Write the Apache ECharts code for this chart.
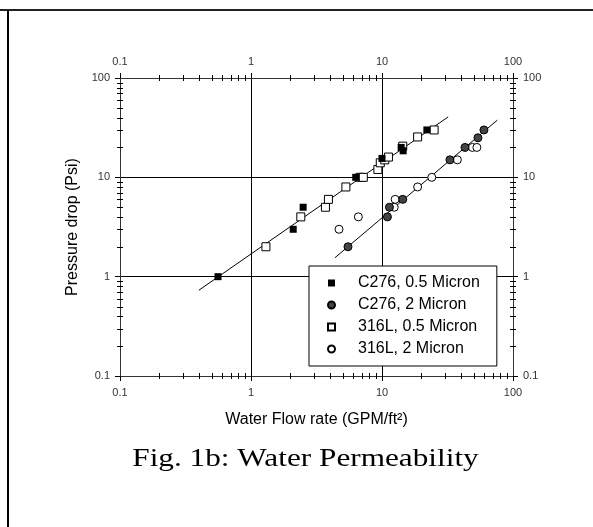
<!DOCTYPE html>
<html>
<head>
<meta charset="utf-8">
<script src="https://cdn.jsdelivr.net/npm/echarts@6/dist/echarts.min.js"></script>
<style>
html,body{margin:0;padding:0;background:#fff;}
#chart{width:593px;height:527px;}
</style>
</head>
<body>
<div id="chart"></div>
<script>
// ---- data ----
const seriesNames = ['C276, 0.5 Micron', 'C276, 2 Micron', '316L, 0.5 Micron', '316L, 2 Micron'];

const c276_05_x = [0.56, 2.1, 2.5, 6.3, 10, 14, 14.5, 22];
const c276_05_y = [1, 3, 5, 10, 15.5, 20, 18.5, 30];

const c276_2_x = [5.5, 11, 11.4, 14.4, 33, 43, 54, 60];
const c276_2_y = [2, 4, 5, 6, 15, 20, 25, 30];

const s316_05_x = [1.3, 2.4, 3.7, 3.9, 5.3, 6.8, 7.2, 9.3, 9.7, 10.5, 11.2, 14.4, 18.7, 25];
const s316_05_y = [2, 4, 5, 6, 8, 10, 10, 12, 14, 15, 16, 20.6, 25.5, 30];

const s316_2_x = [4.7, 6.6, 12.4, 12.6, 18.7, 24, 37.6, 49, 53];
const s316_2_y = [3, 4, 5, 6, 8, 10, 15, 20, 20];

const fit1_x = [0.4, 32];
const fit1_y = [0.73, 40.6];
const fit2_x = [4.37, 76];
const fit2_y = [1.55, 37.7];

const minorTicks = [0.2,0.3,0.4,0.5,0.6,0.7,0.8,0.9, 2,3,4,5,6,7,8,9, 20,30,40,50,60,70,80,90];

const xName = 'Water Flow rate (GPM/ft\u00B2)';
const yName = 'Pressure drop (Psi)';
const caption = 'Fig. 1b: Water Permeability';

// ---- helpers ----
function zip(xs, ys){ return xs.map((x,i)=>[x, ys[i]]); }

const chart = echarts.init(document.getElementById('chart'), null, {renderer:'canvas'});
const font = 'Liberation Sans, Arial, sans-serif';
const axisCol = '#333';

function logAxis(pos, isX, primary){
  return {
    type:'log', logBase:10, min:0.1, max:100, position:pos,
    axisLine:{show:true, onZero:false, lineStyle:{color:axisCol, width:1}},
    axisTick:{show:true, length:5, inside:false, lineStyle:{color:'#000', width:1}},
    axisLabel:{show:true, fontFamily:font, fontSize:11, color:'#333', margin: isX ? 11 : 10},
    splitLine:{show:primary, lineStyle:{color:'#000', width:1}},
    minorTick:{show:false},
    name: primary ? (isX ? xName : yName) : '',
    nameLocation:'middle',
    nameGap: isX ? 36 : 37,
    nameTextStyle:{fontFamily:font, fontSize:16, color:'#000'}
  };
}

function tickRender(isX){
  return function(params, api){
    const v = api.value(0);
    const a = isX ? api.coord([v, 0.1]) : api.coord([0.1, v]);
    const b = isX ? api.coord([v, 100]) : api.coord([100, v]);
    const st = {stroke:'#000', lineWidth:1};
    if(isX){
      return {type:'group', children:[
        {type:'line', shape:{x1:Math.round(a[0])+0.5, y1:a[1]-3, x2:Math.round(a[0])+0.5, y2:a[1]+3}, style:st},
        {type:'line', shape:{x1:Math.round(b[0])+0.5, y1:b[1]-3, x2:Math.round(b[0])+0.5, y2:b[1]+3}, style:st}
      ]};
    } else {
      return {type:'group', children:[
        {type:'line', shape:{x1:a[0]-3, y1:Math.round(a[1])+0.5, x2:a[0]+3, y2:Math.round(a[1])+0.5}, style:st},
        {type:'line', shape:{x1:b[0]-3, y1:Math.round(b[1])+0.5, x2:b[0]+3, y2:Math.round(b[1])+0.5}, style:st}
      ]};
    }
  };
}

const option = {
  backgroundColor:'#fff',
  animation:false,
  grid:{left:120, right:80, top:78, bottom:151, containLabel:false},
  xAxis:[logAxis('bottom', true, true), logAxis('top', true, false)],
  yAxis:[logAxis('left', false, true), logAxis('right', false, false)],
  legend:{
    data:seriesNames,
    orient:'vertical',
    left:309, top:266,
    padding:[9,17,9,18],
    itemWidth:7, itemHeight:7, itemGap:6,
    backgroundColor:'#fff',
    borderColor:'#000', borderWidth:1, borderRadius:0,
    textStyle:{fontFamily:font, fontSize:16, color:'#000', lineHeight:16, padding:[0,0,0,18]},
    selectedMode:false
  },
  graphic:[
    {type:'line', shape:{x1:0, y1:10, x2:593, y2:10}, style:{stroke:'#222', lineWidth:2}},
    {type:'line', shape:{x1:8, y1:10, x2:8, y2:527}, style:{stroke:'#000', lineWidth:2}},
    {type:'text', x:305.5, y:459, scaleX:1.25, scaleY:1,
      style:{text:caption, x:0, y:0, textAlign:'center', textVerticalAlign:'middle',
        font:'25px "Liberation Serif", "Times New Roman", serif', fill:'#000'}}
  ],
  series:[
    {type:'line', name:'fit1', data:zip(fit1_x, fit1_y), showSymbol:false, symbol:'none',
      lineStyle:{color:'#000', width:1}, z:1, silent:true},
    {type:'line', name:'fit2', data:zip(fit2_x, fit2_y), showSymbol:false, symbol:'none',
      lineStyle:{color:'#000', width:1}, z:1, silent:true},
    {type:'custom', name:'xminor', data:minorTicks.map(v=>[v]), renderItem:tickRender(true), clip:false, silent:true, z:3},
    {type:'custom', name:'yminor', data:minorTicks.map(v=>[v]), renderItem:tickRender(false), clip:false, silent:true, z:3},
    {type:'scatter', name:seriesNames[2], data:zip(s316_05_x, s316_05_y), symbol:'rect', symbolSize:8,
      itemStyle:{color:'#fff', borderColor:'#000', borderWidth:1, opacity:1}, z:5},
    {type:'scatter', name:seriesNames[3], data:zip(s316_2_x, s316_2_y), symbol:'circle', symbolSize:8,
      itemStyle:{color:'#fff', borderColor:'#000', borderWidth:1, opacity:1}, z:5},
    {type:'scatter', name:seriesNames[0], data:zip(c276_05_x, c276_05_y), symbol:'rect', symbolSize:7,
      itemStyle:{color:'#000', borderColor:'#000', borderWidth:0, opacity:1}, z:6},
    {type:'scatter', name:seriesNames[1], data:zip(c276_2_x, c276_2_y), symbol:'circle', symbolSize:8,
      itemStyle:{color:'#444', borderColor:'#000', borderWidth:1, opacity:1}, z:6}
  ]
};
chart.setOption(option);
</script>
</body>
</html>
